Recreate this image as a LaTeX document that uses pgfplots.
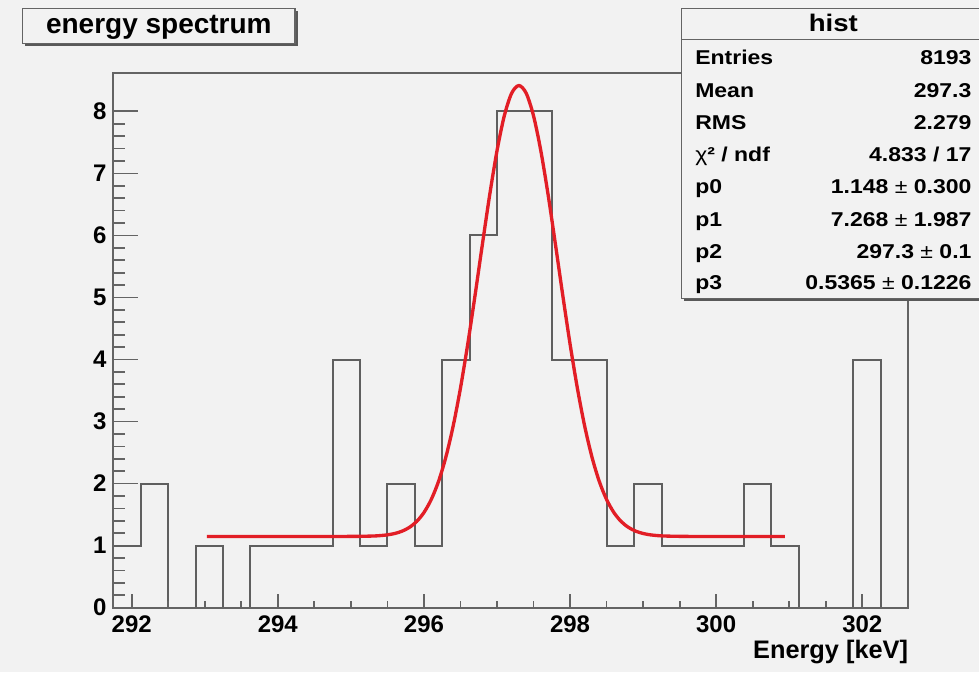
\documentclass[border=0pt]{standalone}
\usepackage{fontspec}
\setmainfont{Liberation Sans}
\newfontfamily\statfont[FakeStretch=1.15]{Liberation Sans}
\usepackage{pgfplots}
\pgfplotsset{compat=1.18}
\definecolor{canvas}{RGB}{242,242,242}
\definecolor{histgray}{RGB}{95,95,95}
\definecolor{framegray}{RGB}{100,100,100}
\definecolor{fitred}{RGB}{226,30,38}

\pgfplotsset{
  rootaxis/.style={
    at={(84.975pt,48.225pt)}, anchor=south west,
    scale only axis, width=596.25pt, height=401.25pt,
    xmin=291.748, xmax=302.63, ymin=0, ymax=8.623,
    axis line style={framegray, line width=1.6pt},
    tick align=inside,
    tick style={framegray, line width=1.3pt},
    /pgf/number format/assume math mode=true,
    tick label style={font=\fontsize{18}{20}\selectfont\bfseries},
  }
}

\begin{document}
\begin{tikzpicture}[x=0.75pt,y=0.75pt]
\path[use as bounding box] (0,0) rectangle (979,672);
\clip (0,0) rectangle (979,672);
\fill[canvas] (0,0) rectangle (979,672);

% y ticks, histogram and fit
\begin{axis}[rootaxis,
  xtick=\empty,
  ytick={0,1,...,8}, minor y tick num=4, ytick pos=left,
  major tick length=18.75pt, minor tick length=9pt,
  yticklabel style={inner sep=0pt, xshift=-5pt}]
\addplot[const plot, histgray, line width=1.5pt] coordinates {
(291.748,1) (292.123,2) (292.498,0) (292.874,1) (293.249,0)
(293.624,1) (293.999,1) (294.375,1) (294.750,4) (295.125,1)
(295.500,2) (295.875,1) (296.251,4) (296.626,6) (297.001,8)
(297.376,8) (297.752,4) (298.127,4) (298.502,1) (298.877,2)
(299.253,1) (299.628,1) (300.003,1) (300.378,2) (300.754,1)
(301.129,0) (301.504,0) (301.879,4) (302.255,0) (302.630,0)
};
\addplot[smooth, fitred, line width=2.5pt] coordinates {
(293.03,1.148) (294.0,1.148) (295.0,1.149) (295.1,1.150) (295.3,1.155)
(295.4,1.162) (295.5,1.174) (295.6,1.196) (295.7,1.233) (295.8,1.294)
(295.9,1.389) (296.0,1.534) (296.1,1.744) (296.2,2.036) (296.3,2.427)
(296.4,2.928) (296.5,3.539) (296.6,4.251) (296.7,5.037) (296.8,5.856)
(296.9,6.653) (297.0,7.364) (297.1,7.928) (297.2,8.291) (297.3,8.416)
(297.4,8.291) (297.5,7.928) (297.6,7.364) (297.7,6.653) (297.8,5.856)
(297.9,5.037) (298.0,4.251) (298.1,3.539) (298.2,2.928) (298.3,2.427)
(298.4,2.036) (298.5,1.744) (298.6,1.534) (298.7,1.389) (298.8,1.294)
(298.9,1.233) (299.0,1.196) (299.1,1.174) (299.2,1.162) (299.3,1.155)
(299.5,1.150) (299.6,1.149) (300.0,1.148) (300.94,1.148)
};
\end{axis}

% x ticks and label
\begin{axis}[rootaxis,
  ytick=\empty,
  xtick={292,294,...,302}, minor x tick num=3, xtick pos=bottom,
  major tick length=10.5pt, minor tick length=5.25pt,
  xticklabel style={inner sep=0pt, yshift=-6pt},
  xlabel={Energy [keV]},
  xlabel style={at={(rel axis cs:1,0)}, anchor=north east, inner sep=0pt,
    yshift=-24pt, font=\fontsize{19}{22}\selectfont\bfseries}]
\end{axis}

% title box
\fill[black!65] (25.2,626.2) rectangle (297.5,660.7);
\draw[framegray, line width=1pt, fill=canvas] (22.7,628.7) rectangle (295,663.7);
\node[anchor=base, inner sep=0pt, font=\fontsize{21}{24}\selectfont\bfseries]
  at (158.85,638) {energy spectrum};

% stats box
\fill[black!65] (684.2,371.2) rectangle (990,660.7);
\draw[framegray, line width=1pt, fill=canvas] (681.7,373.7) rectangle (985,663.7);
\draw[framegray, line width=1pt] (681.7,632.7) -- (985,632.7);
\node[anchor=base, inner sep=0pt, font=\statfont\fontsize{18}{20}\selectfont\bfseries]
  at (833.3,640) {hist};
\begin{scope}[every node/.style={inner sep=0pt, font=\statfont\fontsize{15}{18}\selectfont\bfseries}]
\node[anchor=base west] at (695,607) {Entries};
\node[anchor=base east] at (971.7,607) {8193};
\node[anchor=base west] at (695,574.6) {Mean};
\node[anchor=base east] at (971.7,574.6) {297.3};
\node[anchor=base west] at (695,542) {RMS};
\node[anchor=base east] at (971.7,542) {2.279};
\node[anchor=base west] at (695,510.3) {{\mdseries χ}² / ndf};
\node[anchor=base east] at (971.7,510.3) {4.833 / 17};
\node[anchor=base west] at (695,478.6) {p0};
\node[anchor=base east] at (971.7,478.6) {1.148 {\mdseries ±} 0.300};
\node[anchor=base west] at (695,445.3) {p1};
\node[anchor=base east] at (971.7,445.3) {7.268 {\mdseries ±} 1.987};
\node[anchor=base west] at (695,413.6) {p2};
\node[anchor=base east] at (971.7,413.6) {297.3 {\mdseries ±} 0.1};
\node[anchor=base west] at (695,382) {p3};
\node[anchor=base east] at (971.7,382) {0.5365 {\mdseries ±} 0.1226};
\end{scope}
\end{tikzpicture}
\end{document}
